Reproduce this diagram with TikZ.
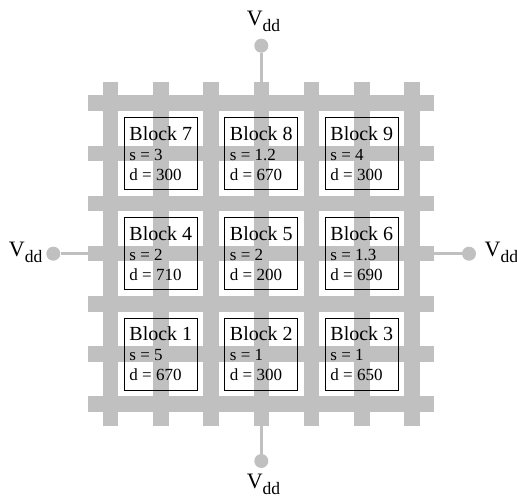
\documentclass[tikz,border=0pt]{standalone}
\usepackage{fontspec}
\setmainfont{Liberation Serif}
\usepackage{tikz}
\usepackage{xcolor}

\definecolor{railgray}{RGB}{192,192,192}
\newcommand{\vddtext}{V\raisebox{-6.5pt}{\fontsize{17.5}{18}\selectfont dd}}

\begin{document}
\begin{tikzpicture}[
    x=1pt, y=1pt, yscale=-1, xscale=1,
    every node/.style={inner sep=0pt},
    rail/.style={draw=railgray, line width=15.5},
    tap/.style={draw=railgray, line width=3.3},
    pad/.style={circle, fill=railgray, minimum size=14},
    block/.style={draw, line width=0.9, minimum width=73, minimum height=72,
                  align=left, inner xsep=5, font=\fontsize{17}{20}\selectfont},
    pinlabel/.style={font=\fontsize{22}{24}\selectfont}
]
\useasboundingbox (0,0) rectangle (517,498);

%==================== Horizontal rails ====================
\draw [rail] (88.3,103.2) -- (434.3,103.2) ;
\draw [rail] (88.3,153.4) -- (434.3,153.4) ;
\draw [rail] (88.3,203.5) -- (434.3,203.5) ;
\draw [rail] (88.3,253.7) -- (434.3,253.7) ;
\draw [rail] (88.3,303.9) -- (434.3,303.9) ;
\draw [rail] (88.3,354.1) -- (434.3,354.1) ;
\draw [rail] (88.3,404.2) -- (434.3,404.2) ;

%==================== Vertical rails ====================
\draw [rail] (110.5,81.7) -- (110.5,425.7) ;
\draw [rail] (160.8,81.7) -- (160.8,425.7) ;
\draw [rail] (211.0,81.7) -- (211.0,425.7) ;
\draw [rail] (261.3,81.7) -- (261.3,425.7) ;
\draw [rail] (311.5,81.7) -- (311.5,425.7) ;
\draw [rail] (361.8,81.7) -- (361.8,425.7) ;
\draw [rail] (412.0,81.7) -- (412.0,425.7) ;

%==================== Supply pads ====================
\node [pad] (padN) at (261.3,45.7) {};
\node [pad] (padS) at (261.3,461)  {};
\node [pad] (padW) at (53.3,253.7) {};
\node [pad] (padE) at (469,253.7)  {};
\coordinate (railN) at (261.3,81.7);
\coordinate (railS) at (261.3,425.7);
\coordinate (railW) at (88.3,253.7);
\coordinate (railE) at (434.3,253.7);
\draw [tap] (padN) -- (railN) ;
\draw [tap] (padS) -- (railS) ;
\draw [tap] (padW) -- (railW) ;
\draw [tap] (padE) -- (railE) ;

%==================== Blocks ====================
\node [block] (blk7) at (160.8,153.4) {{\fontsize{20}{20}\selectfont Block 7}\\ s = 3\\ d = 300};
\node [block] (blk8) at (261.3,153.4) {{\fontsize{20}{20}\selectfont Block 8}\\ s = 1.2\\ d = 670};
\node [block] (blk9) at (361.8,153.4) {{\fontsize{20}{20}\selectfont Block 9}\\ s = 4\\ d = 300};
\node [block] (blk4) at (160.8,253.7) {{\fontsize{20}{20}\selectfont Block 4}\\ s = 2\\ d = 710};
\node [block] (blk5) at (261.3,253.7) {{\fontsize{20}{20}\selectfont Block 5}\\ s = 2\\ d = 200};
\node [block] (blk6) at (361.8,253.7) {{\fontsize{20}{20}\selectfont Block 6}\\ s = 1.3\\ d = 690};
\node [block] (blk1) at (160.8,354.1) {{\fontsize{20}{20}\selectfont Block 1}\\ s = 5\\ d = 670};
\node [block] (blk2) at (261.3,354.1) {{\fontsize{20}{20}\selectfont Block 2}\\ s = 1\\ d = 300};
\node [block] (blk3) at (361.8,354.1) {{\fontsize{20}{20}\selectfont Block 3}\\ s = 1\\ d = 650};

%==================== Labels ====================
\node [pinlabel, anchor=base]      (vddN) at (263.5,25)   {\vddtext};
\node [pinlabel, anchor=base]      (vddS) at (263.5,488)  {\vddtext};
\node [pinlabel, anchor=base east] (vddW) at (42.5,256)   {\vddtext};
\node [pinlabel, anchor=base west] (vddE) at (484.5,256)  {\vddtext};

\end{tikzpicture}
\end{document}
